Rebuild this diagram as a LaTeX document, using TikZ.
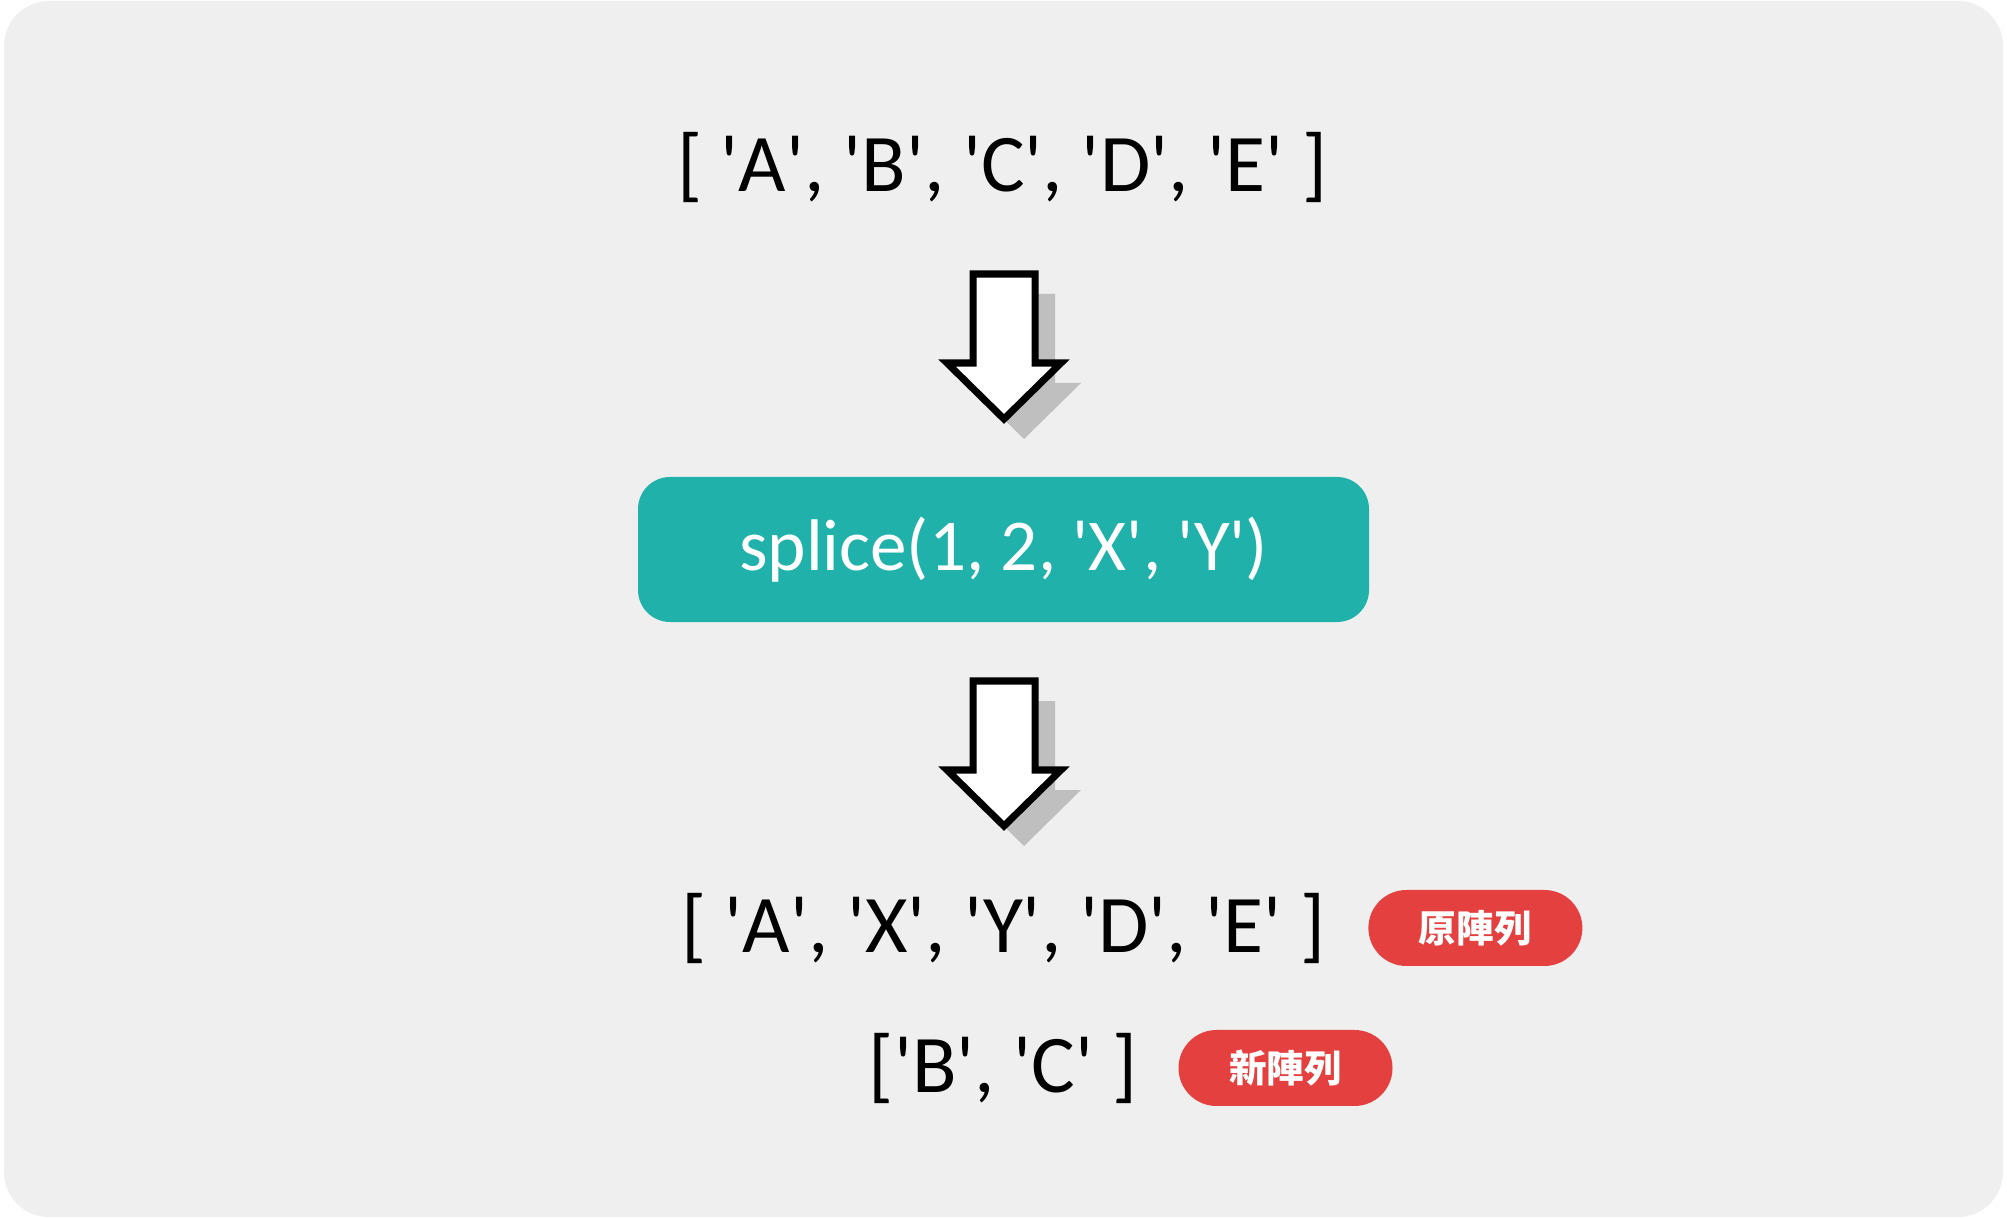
\documentclass[tikz,border=0pt]{standalone}
\usepackage{fontspec}
\setmainfont{Carlito}
\newfontfamily\cjk{Noto Sans CJK TC}
\usetikzlibrary{positioning}
\definecolor{panelgray}{HTML}{EFEFEF}
\definecolor{callteal}{HTML}{20B2AA}
\definecolor{tagred}{HTML}{E54040}
\definecolor{shadowgray}{HTML}{BFBFBF}
\newcommand{\qt}[1]{\textquotesingle#1\textquotesingle}

\begin{document}
\begin{tikzpicture}[
    every node/.style={inner sep=0pt},
    arraytext/.style={font=\fontsize{23.3}{28}\selectfont, anchor=base},
    callbox/.style={
        fill=callteal, rounded corners=0.32cm,
        minimum width=7.31cm, minimum height=1.45cm,
        text=white, font=\fontsize{20.8}{25}\selectfont
    },
    tag/.style={
        fill=tagred, rounded corners=0.38cm,
        minimum width=2.14cm, minimum height=0.76cm,
        text=white, font=\cjk\bfseries\fontsize{10.7}{12}\selectfont
    },
    downblock/.pic={
        \fill[shadowgray, xshift=0.2cm, yshift=-0.2cm]
            (-0.31,0) -- (-0.31,-0.89) -- (-0.57,-0.89) -- (0,-1.45)
            -- (0.57,-0.89) -- (0.31,-0.89) -- (0.31,0) -- cycle;
        \draw[line width=2pt, fill=white]
            (-0.31,0) -- (-0.31,-0.89) -- (-0.57,-0.89) -- (0,-1.45)
            -- (0.57,-0.89) -- (0.31,-0.89) -- (0.31,0) -- cycle;
    },
]
\useasboundingbox (0,0) rectangle (20.07,-12.19);

% === Panel ===
\fill[panelgray, rounded corners=0.45cm] (0.04,-0.01) rectangle (20.03,-12.17);

% === Source array ===
\node[arraytext] (src) at (10.02,-1.92) {[ \qt{A}, \qt{B}, \qt{C}, \qt{D}, \qt{E} ]};

% === splice call ===
\node[callbox] (splice) at (10.035,-5.495) {splice(1, 2, \qt{X}, \qt{Y})};

% Block arrows
\coordinate (arrtop1) at (10.04,-2.74);
\coordinate (arrtop2) at (10.04,-6.81);
\pic at (arrtop1) {downblock};
\pic at (arrtop2) {downblock};

% === Results ===
\node[arraytext] (orig) at (10.03,-9.52) {[ \qt{A}, \qt{X}, \qt{Y}, \qt{D}, \qt{E} ]};
\node[arraytext] (removed) at (10.03,-10.92) {[\qt{B}, \qt{C} ]};

% Tags
\node[tag, right=0.42cm of orig] (origtag) {原陣列};
\node[tag, right=0.40cm of removed] (newtag) {新陣列};

\end{tikzpicture}
\end{document}
